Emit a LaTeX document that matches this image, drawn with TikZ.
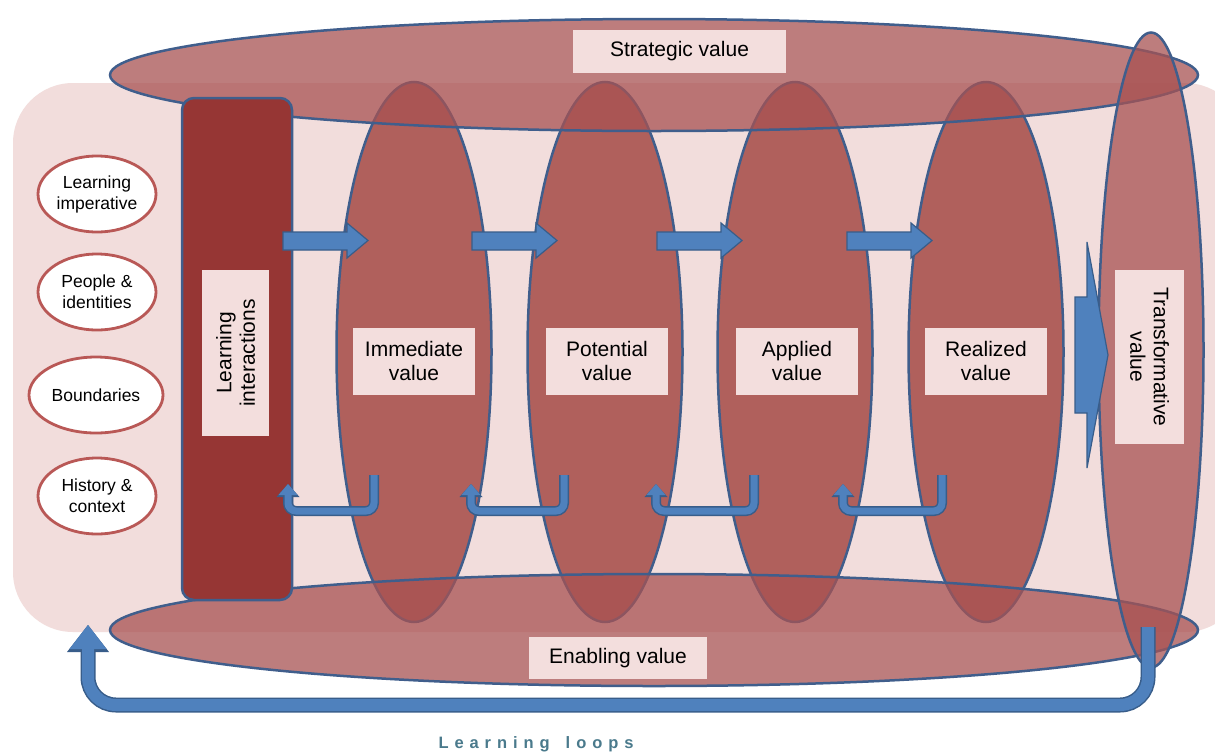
\documentclass[tikz,border=0pt]{standalone}
\usepackage{fontspec}
\setsansfont{Liberation Sans}
\usetikzlibrary{shapes.geometric,arrows.meta}

\definecolor{bgpink}{RGB}{242,221,220}
\definecolor{ringred}{RGB}{176,96,92}
\definecolor{bandred}{RGB}{168,82,82}
\definecolor{darkred}{RGB}{150,54,52}
\definecolor{slate}{RGB}{64,94,140}
\definecolor{arrowblue}{RGB}{79,129,189}
\definecolor{arrowedge}{RGB}{56,93,138}
\definecolor{labelpink}{RGB}{243,222,221}
\definecolor{ovalrim}{RGB}{185,88,86}
\definecolor{loopteal}{RGB}{74,122,140}

\tikzset{
  valring/.style={ellipse, draw=slate, line width=2.5pt, fill=ringred,
    minimum width=155pt, minimum height=540pt, inner sep=0pt},
  band/.style={ellipse, draw=slate, line width=2.5pt, fill=bandred,
    fill opacity=0.75, inner sep=0pt},
  tag/.style={fill=labelpink, text=black, align=center, inner sep=0pt,
    font=\sffamily\fontsize{21}{23.5}\selectfont},
  factor/.style={ellipse, draw=ovalrim, line width=2.8pt, fill=white,
    align=center, inner sep=0pt, minimum width=118pt, minimum height=76pt,
    font=\sffamily\fontsize{17.5}{21}\selectfont},
  blockarrow/.style={fill=arrowblue, draw=arrowedge, line width=1.2pt},
  backloop/.style={draw=arrowblue, line width=7pt, rounded corners=8pt,
    -{Triangle[length=11pt,width=19pt,line width=0pt]},
    preaction={draw=arrowedge, line width=10pt,
      -{Triangle[length=13pt,width=23pt,line width=0pt]}}},
  bigloop/.style={draw=arrowblue, line width=12pt, rounded corners=28pt,
    -{Triangle[length=24pt,width=37pt,line width=0pt]},
    preaction={draw=arrowedge, line width=15pt,
      -{Triangle[length=27pt,width=42pt,line width=0pt]}}}
}

\begin{document}
\begin{tikzpicture}[x=1pt,y=-1pt]
  \useasboundingbox (0,0) rectangle (1215,753);
  \fill[white] (0,0) rectangle (1215,753);
  % backdrop
  \fill[bgpink, rounded corners=60pt] (13,83) rectangle (1245,632);

  % the four value rings
  \foreach \n/\x in {imm/414,pot/605,app/795,rea/986}
    \node[valring] (\n) at (\x,352) {};

  % strategic and enabling bands
  \node[band, minimum width=1088pt, minimum height=112pt] (strat) at (654,75) {};
  \node[band, minimum width=1088pt, minimum height=112pt] (enab) at (654,630) {};

  \node[draw=slate, line width=2.5pt, fill=darkred, rounded corners=12pt,
    minimum width=110pt, minimum height=502pt, inner sep=0pt] (li) at (237,349) {};

  \node[band, minimum width=105pt, minimum height=635pt] (tra) at (1151,350) {};

  % forward arrows
  \foreach \x in {283,472,657,847}
    \draw[blockarrow] (\x,232) -- ++(64,0) -- ++(0,-9) -- ++(21,17.5)
      -- ++(-21,17.5) -- ++(0,-8) -- ++(-64,0) -- cycle;
  \draw[blockarrow] (1075,297) -- (1087,297) -- (1087,242) -- (1108,355)
    -- (1087,468) -- (1087,413) -- (1075,413) -- cycle;

  % small loops back
  \foreach \r/\l in {374/288,564/471,754/656,942/843}
    \draw[backloop] (\r,475) -- (\r,511) -- (\l,511) -- (\l,484);

  % learning loops
  \coordinate (loopstart) at (1148,627);
  \coordinate (loopend) at (88,625);
  \draw[bigloop] (loopstart) -- (1148,705) -- (88,705) -- (loopend);

  % labels
  \node[tag, minimum width=213pt, minimum height=43pt] (stratlbl) at (679.5,51.5) {Strategic value};
  \node[tag, minimum width=178pt, minimum height=42pt] (enablbl) at (618,658) {Enabling value};
  \node[tag, rotate=90, minimum width=166pt, minimum height=67pt] (lilbl) at (235.5,353) {Learning\\interactions};
  \node[tag, rotate=-90, minimum width=174pt, minimum height=69pt] (tralbl) at (1149.5,357) {Transformative\\value};
  \foreach \n/\x/\t in {imm/414/Immediate,pot/607/Potential,app/797/Applied,rea/986/Realized}
    \node[tag, minimum width=122pt, minimum height=67pt] (\n lbl) at (\x,361) {\t\\value};

  \node[factor] (imp) at (97,194) {Learning\\imperative};
  \node[factor] (ppl) at (97,292) {People \&\\identities};
  \node[factor, minimum width=134pt] (bnd) at (96,395) {Boundaries};
  \node[factor] (hist) at (97,496) {History \&\\context};

  \node[text=loopteal, font=\sffamily\bfseries\fontsize{16.5}{16.5}\selectfont\addfontfeature{LetterSpace=36}] (looptxt) at (536,744) {Learning\hspace{16pt}loops};
\end{tikzpicture}
\end{document}
